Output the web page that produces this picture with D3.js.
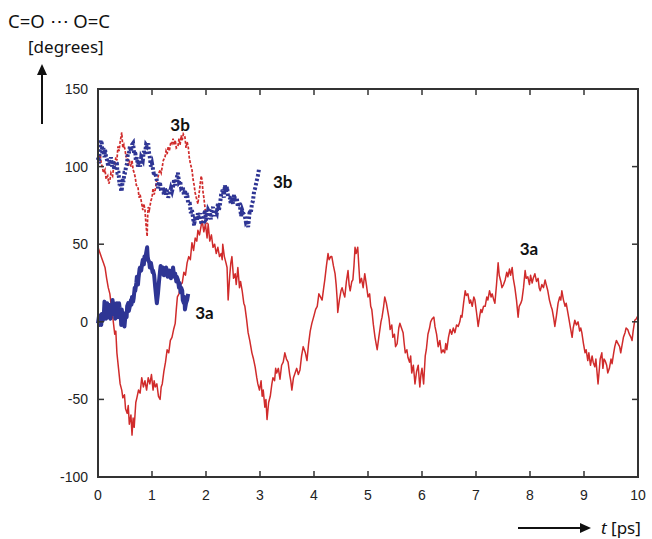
<!DOCTYPE html>
<html>
<head>
<meta charset="utf-8">
<script src="https://cdn.jsdelivr.net/npm/d3@7"></script>
<style>
  body { margin: 0; background: #fff; }
  svg { display: block; }
</style>
</head>
<body>
<div id="chart"></div>
<script>
// axis ticks
const xTicks = [0, 1, 2, 3, 4, 5, 6, 7, 8, 9, 10];
const yTicks = [150, 100, 50, 0, -50, -100];

// 3a, red solid: [t (ps), angle (deg)]
const red3a = [[0.00,48],[0.03,45],[0.07,41],[0.10,38],[0.13,35],[0.16,28],[0.19,22],[0.22,18],[0.25,9],[0.28,1],[0.31,-8],[0.33,-6],[0.35,-20],[0.38,-30],[0.41,-40],[0.44,-44],[0.46,-49],[0.49,-47],[0.51,-56],[0.54,-59],[0.56,-54],[0.58,-66],[0.61,-60],[0.63,-73],[0.65,-62],[0.67,-68],[0.70,-52],[0.72,-49],[0.75,-44],[0.78,-46],[0.81,-36],[0.84,-42],[0.87,-38],[0.90,-44],[0.93,-36],[0.96,-40],[0.99,-34],[1.02,-44],[1.04,-38],[1.06,-42],[1.09,-40],[1.12,-48],[1.15,-50],[1.17,-42],[1.19,-40],[1.22,-32],[1.25,-26],[1.28,-18],[1.31,-20],[1.34,-12],[1.37,-10],[1.40,-5],[1.43,-1],[1.45,8],[1.47,16],[1.50,18],[1.53,24],[1.56,25],[1.59,32],[1.62,30],[1.65,38],[1.68,42],[1.71,40],[1.74,51],[1.77,46],[1.80,54],[1.83,52],[1.85,59],[1.88,56],[1.91,62],[1.93,65],[1.96,58],[1.99,63],[2.02,54],[2.04,63],[2.07,52],[2.10,56],[2.13,48],[2.16,50],[2.19,44],[2.22,48],[2.25,42],[2.28,44],[2.30,40],[2.31,50],[2.34,42],[2.37,38],[2.39,35],[2.41,14],[2.44,30],[2.46,38],[2.48,42],[2.51,28],[2.54,31],[2.56,24],[2.59,35],[2.62,22],[2.64,26],[2.67,20],[2.70,12],[2.72,10],[2.75,2],[2.78,-7],[2.81,-12],[2.85,-20],[2.88,-24],[2.91,-29],[2.94,-36],[2.96,-40],[2.99,-44],[3.02,-38],[3.04,-48],[3.06,-44],[3.09,-55],[3.11,-50],[3.13,-63],[3.16,-52],[3.19,-48],[3.22,-40],[3.24,-36],[3.27,-38],[3.29,-30],[3.31,-33],[3.34,-30],[3.37,-37],[3.40,-28],[3.43,-26],[3.46,-20],[3.49,-24],[3.52,-26],[3.55,-34],[3.57,-38],[3.59,-44],[3.62,-36],[3.65,-33],[3.68,-30],[3.71,-34],[3.74,-31],[3.77,-22],[3.80,-16],[3.84,-20],[3.87,-25],[3.90,-14],[3.93,-6],[3.96,-1],[4.00,4],[4.03,8],[4.06,10],[4.09,18],[4.12,16],[4.15,14],[4.18,22],[4.20,27],[4.23,36],[4.26,44],[4.28,40],[4.31,42],[4.33,42],[4.36,36],[4.39,31],[4.41,24],[4.43,14],[4.44,6],[4.47,14],[4.50,20],[4.52,22],[4.55,18],[4.57,16],[4.60,26],[4.63,33],[4.65,24],[4.67,20],[4.70,26],[4.72,27],[4.74,36],[4.76,48],[4.78,44],[4.81,48],[4.83,36],[4.85,25],[4.88,28],[4.91,22],[4.94,31],[4.97,24],[5.00,16],[5.03,18],[5.05,10],[5.07,8],[5.10,-2],[5.13,-10],[5.15,-14],[5.17,-18],[5.20,-10],[5.22,-5],[5.24,0],[5.26,3],[5.29,10],[5.31,16],[5.34,12],[5.37,6],[5.39,2],[5.41,-5],[5.44,-2],[5.46,-10],[5.49,-8],[5.51,-16],[5.54,-14],[5.57,-4],[5.59,-1],[5.62,-4],[5.65,-7],[5.67,-14],[5.69,-20],[5.72,-18],[5.74,-23],[5.77,-26],[5.79,-22],[5.81,-33],[5.84,-28],[5.87,-40],[5.90,-32],[5.93,-28],[5.95,-38],[5.96,-42],[5.98,-34],[6.00,-30],[6.03,-40],[6.06,-22],[6.08,-18],[6.11,-8],[6.14,-4],[6.16,0],[6.19,2],[6.22,3],[6.24,-3],[6.27,-8],[6.30,-16],[6.33,-12],[6.36,-20],[6.39,-18],[6.42,-20],[6.44,-14],[6.46,-18],[6.49,-10],[6.52,-5],[6.55,-8],[6.58,-4],[6.61,-7],[6.64,-2],[6.67,-3],[6.70,0],[6.72,4],[6.74,3],[6.77,12],[6.80,20],[6.82,17],[6.85,18],[6.88,12],[6.90,14],[6.93,10],[6.96,16],[6.98,14],[7.01,6],[7.04,-3],[7.07,4],[7.09,8],[7.11,6],[7.14,10],[7.17,10],[7.20,16],[7.22,14],[7.25,20],[7.28,16],[7.30,18],[7.33,14],[7.35,12],[7.38,24],[7.41,38],[7.43,30],[7.46,26],[7.48,22],[7.51,24],[7.54,27],[7.57,32],[7.59,29],[7.62,34],[7.64,30],[7.67,35],[7.69,28],[7.72,22],[7.75,14],[7.78,3],[7.80,10],[7.83,12],[7.85,14],[7.88,22],[7.91,33],[7.93,28],[7.96,29],[7.99,24],[8.01,30],[8.04,25],[8.06,28],[8.09,31],[8.12,26],[8.15,28],[8.17,22],[8.19,20],[8.22,24],[8.25,22],[8.28,27],[8.30,24],[8.33,20],[8.36,14],[8.39,10],[8.41,8],[8.44,2],[8.46,-3],[8.49,4],[8.52,12],[8.55,16],[8.57,14],[8.59,20],[8.62,14],[8.65,10],[8.67,12],[8.70,6],[8.72,2],[8.75,-4],[8.78,-10],[8.80,-4],[8.83,1],[8.86,-2],[8.89,0],[8.92,-6],[8.94,-4],[8.96,-7],[8.99,-14],[9.02,-20],[9.04,-18],[9.07,-25],[9.09,-20],[9.12,-28],[9.15,-22],[9.17,-26],[9.20,-29],[9.22,-24],[9.24,-32],[9.26,-40],[9.28,-32],[9.30,-24],[9.33,-20],[9.35,-30],[9.37,-24],[9.39,-25],[9.42,-28],[9.44,-33],[9.47,-30],[9.50,-24],[9.52,-27],[9.55,-20],[9.57,-16],[9.60,-12],[9.63,-14],[9.66,-16],[9.68,-20],[9.70,-16],[9.73,-10],[9.76,-7],[9.78,-4],[9.81,-5],[9.84,-8],[9.87,-10],[9.89,-12],[9.91,-6],[9.94,1],[9.97,2],[10.00,4]];

// 3b, red dashed
const red3b = [[0.00,100],[0.02,106],[0.04,108],[0.06,102],[0.08,100],[0.10,96],[0.13,98],[0.15,92],[0.18,94],[0.20,89],[0.22,91],[0.24,96],[0.27,94],[0.29,100],[0.31,100],[0.33,106],[0.35,104],[0.37,113],[0.39,110],[0.41,116],[0.44,122],[0.46,112],[0.48,114],[0.50,111],[0.52,106],[0.54,108],[0.56,100],[0.58,104],[0.61,100],[0.63,104],[0.65,98],[0.67,96],[0.69,93],[0.71,88],[0.74,87],[0.76,80],[0.78,82],[0.81,76],[0.83,72],[0.85,76],[0.87,72],[0.89,62],[0.91,55],[0.92,68],[0.93,74],[0.95,72],[0.98,78],[1.00,80],[1.02,86],[1.04,82],[1.06,85],[1.08,90],[1.11,93],[1.13,96],[1.15,98],[1.17,96],[1.19,100],[1.21,104],[1.24,106],[1.26,110],[1.28,108],[1.30,113],[1.32,110],[1.35,116],[1.37,115],[1.39,118],[1.41,114],[1.43,117],[1.45,112],[1.48,113],[1.50,118],[1.52,114],[1.54,120],[1.56,117],[1.58,121],[1.61,119],[1.63,112],[1.65,116],[1.67,113],[1.69,106],[1.71,102],[1.74,98],[1.76,92],[1.78,88],[1.80,83],[1.82,80],[1.85,76],[1.87,82],[1.89,88],[1.91,94],[1.93,91],[1.94,85],[1.96,80],[1.98,74],[2.00,68],[2.02,63]];

// 3a, blue solid (thick)
const blue3a = [[0.00,-1],[0.02,4],[0.03,-2],[0.04,3],[0.06,-2],[0.07,5],[0.09,1],[0.11,6],[0.12,13],[0.14,8],[0.15,2],[0.17,12],[0.19,3],[0.20,11],[0.21,8],[0.23,2],[0.24,6],[0.26,10],[0.27,14],[0.28,5],[0.30,12],[0.31,9],[0.32,2],[0.33,7],[0.35,12],[0.36,6],[0.37,3],[0.39,12],[0.40,9],[0.42,6],[0.43,-2],[0.44,8],[0.46,2],[0.47,4],[0.49,-3],[0.50,1],[0.52,6],[0.53,3],[0.54,10],[0.56,12],[0.57,7],[0.59,10],[0.61,14],[0.62,11],[0.63,16],[0.65,13],[0.66,15],[0.68,22],[0.69,20],[0.71,25],[0.72,29],[0.74,24],[0.75,28],[0.77,34],[0.78,35],[0.80,33],[0.82,38],[0.83,40],[0.85,37],[0.86,42],[0.88,40],[0.89,44],[0.91,48],[0.92,42],[0.93,40],[0.95,38],[0.96,35],[0.98,38],[0.99,36],[1.01,32],[1.02,33],[1.04,30],[1.05,26],[1.06,22],[1.08,15],[1.09,12],[1.11,18],[1.12,22],[1.13,26],[1.15,33],[1.16,36],[1.18,31],[1.20,35],[1.22,30],[1.24,32],[1.26,35],[1.28,33],[1.29,29],[1.31,31],[1.33,33],[1.35,28],[1.36,32],[1.38,30],[1.39,35],[1.41,29],[1.43,31],[1.45,26],[1.46,29],[1.48,27],[1.50,22],[1.51,25],[1.53,19],[1.54,22],[1.56,20],[1.57,14],[1.59,12],[1.60,16],[1.61,8],[1.63,12],[1.65,14],[1.67,18]];

// 3b, blue dotted
const blue3b = [[0.00,106],[0.02,102],[0.03,110],[0.05,117],[0.07,115],[0.08,108],[0.10,112],[0.12,106],[0.13,111],[0.15,106],[0.17,104],[0.19,100],[0.20,104],[0.22,102],[0.24,106],[0.26,100],[0.28,104],[0.30,98],[0.32,103],[0.35,102],[0.36,96],[0.38,96],[0.40,88],[0.41,91],[0.43,84],[0.44,85],[0.46,92],[0.47,90],[0.49,96],[0.50,96],[0.52,100],[0.54,102],[0.55,108],[0.57,108],[0.59,113],[0.61,110],[0.63,114],[0.65,115],[0.67,108],[0.69,110],[0.70,104],[0.72,106],[0.74,100],[0.76,104],[0.78,100],[0.80,106],[0.83,104],[0.85,110],[0.87,108],[0.89,114],[0.91,113],[0.93,115],[0.94,110],[0.96,106],[0.98,100],[1.00,102],[1.02,98],[1.04,94],[1.06,96],[1.09,91],[1.11,86],[1.13,90],[1.15,89],[1.17,84],[1.20,87],[1.22,82],[1.24,86],[1.26,82],[1.28,85],[1.30,80],[1.33,83],[1.35,86],[1.37,84],[1.39,87],[1.41,92],[1.43,88],[1.46,93],[1.48,96],[1.50,90],[1.52,91],[1.54,86],[1.57,87],[1.59,82],[1.61,85],[1.63,80],[1.65,83],[1.67,76],[1.70,76],[1.72,70],[1.74,72],[1.76,67],[1.78,62],[1.80,68],[1.83,65],[1.85,70],[1.87,66],[1.89,70],[1.91,64],[1.94,63],[1.96,68],[1.98,72],[2.00,66],[2.02,67],[2.04,72],[2.07,70],[2.09,66],[2.11,72],[2.13,74],[2.15,68],[2.17,72],[2.20,70],[2.22,76],[2.24,72],[2.26,76],[2.28,82],[2.31,85],[2.33,80],[2.35,88],[2.37,84],[2.39,87],[2.41,80],[2.44,80],[2.46,76],[2.48,80],[2.50,76],[2.52,82],[2.54,78],[2.57,80],[2.59,74],[2.61,77],[2.63,74],[2.65,68],[2.67,72],[2.69,70],[2.72,68],[2.74,64],[2.76,65],[2.78,61],[2.80,68],[2.81,72],[2.83,70],[2.85,76],[2.87,78],[2.89,84],[2.91,86],[2.94,91],[2.96,94],[2.98,98],[3.00,98]];

// series labels: [t, value, text]
const seriesLabels = [[1.52, 123, "3b"], [3.42, 86, "3b"], [1.97, 2, "3a"], [7.98, 43, "3a"]];

const W = 652, H = 539;
const plot = { left: 98, right: 638, top: 89, bottom: 477 };

const svg = d3.select("#chart").append("svg")
    .attr("width", W)
    .attr("height", H);

const x = d3.scaleLinear().domain([0, 10]).range([plot.left, plot.right]);
const y = d3.scaleLinear().domain([-100, 150]).range([plot.bottom, plot.top]);

const axisColor = "#333";
const redColor = "#d02b2b";
const blueColor = "#2e3594";

const line = d3.line()
    .x(d => x(d[0]))
    .y(d => y(d[1]));

// data lines
svg.append("path")
    .datum(red3a)
    .attr("d", line)
    .attr("fill", "none")
    .attr("stroke", redColor)
    .attr("stroke-width", 1.5)
    .attr("stroke-linejoin", "round");

svg.append("path")
    .datum(red3b)
    .attr("d", line)
    .attr("fill", "none")
    .attr("stroke", redColor)
    .attr("stroke-width", 1.7)
    .attr("stroke-dasharray", "3,1.6");

svg.append("path")
    .datum(blue3a)
    .attr("d", line)
    .attr("fill", "none")
    .attr("stroke", blueColor)
    .attr("stroke-width", 4)
    .attr("stroke-linejoin", "round");

svg.append("path")
    .datum(blue3b)
    .attr("d", line)
    .attr("fill", "none")
    .attr("stroke", blueColor)
    .attr("stroke-width", 4)
    .attr("stroke-dasharray", "2.5,2");

// frame with inward ticks
const g = svg.append("g");
const tickLen = 6;

g.append("rect")
    .attr("x", plot.left)
    .attr("y", plot.top)
    .attr("width", plot.right - plot.left)
    .attr("height", plot.bottom - plot.top)
    .attr("fill", "none")
    .attr("stroke", axisColor)
    .attr("stroke-width", 2);

const innerX = xTicks.filter(d => d > 0 && d < 10);
const innerY = yTicks.filter(d => d > -100 && d < 150);

g.selectAll(".xt-bottom").data(innerX).enter().append("line")
    .attr("x1", d => x(d)).attr("x2", d => x(d))
    .attr("y1", plot.bottom).attr("y2", plot.bottom - tickLen)
    .attr("stroke", axisColor).attr("stroke-width", 1.5);

g.selectAll(".xt-top").data(innerX).enter().append("line")
    .attr("x1", d => x(d)).attr("x2", d => x(d))
    .attr("y1", plot.top).attr("y2", plot.top + tickLen)
    .attr("stroke", axisColor).attr("stroke-width", 1.5);

g.selectAll(".yt-left").data(innerY).enter().append("line")
    .attr("x1", plot.left).attr("x2", plot.left + tickLen)
    .attr("y1", d => y(d)).attr("y2", d => y(d))
    .attr("stroke", axisColor).attr("stroke-width", 1.5);

g.selectAll(".yt-right").data(innerY).enter().append("line")
    .attr("x1", plot.right).attr("x2", plot.right - tickLen)
    .attr("y1", d => y(d)).attr("y2", d => y(d))
    .attr("stroke", axisColor).attr("stroke-width", 1.5);

// tick labels
const tickFont = "'Liberation Sans', Arial, sans-serif";

g.selectAll(".xl").data(xTicks).enter().append("text")
    .attr("x", d => x(d))
    .attr("y", plot.bottom + 23)
    .attr("text-anchor", "middle")
    .style("font-family", tickFont)
    .style("font-size", "14px")
    .style("fill", "#222")
    .text(d => d);

g.selectAll(".yl").data(yTicks).enter().append("text")
    .attr("x", plot.left - 10)
    .attr("y", d => y(d) + 5)
    .attr("text-anchor", "end")
    .style("font-family", tickFont)
    .style("font-size", "14px")
    .style("fill", "#222")
    .text(d => d);

// series labels
svg.selectAll(".slabel").data(seriesLabels).enter().append("text")
    .attr("x", d => x(d[0]))
    .attr("y", d => y(d[1]))
    .attr("text-anchor", "middle")
    .style("font-family", "Lato, 'Open Sans', sans-serif")
    .style("font-weight", "bold")
    .style("font-size", "17px")
    .style("fill", "#111")
    .text(d => d[2]);

// y axis title with arrow
const titleFont = "'Noto Sans', 'Open Sans', sans-serif";
svg.append("text")
    .attr("x", 8)
    .attr("y", 28)
    .style("font-family", titleFont)
    .style("font-size", "18.5px")
    .style("fill", "#111")
    .text("C=O ⋯ O=C");

svg.append("text")
    .attr("x", 28)
    .attr("y", 53)
    .style("font-family", titleFont)
    .style("font-size", "17px")
    .style("fill", "#111")
    .text("[degrees]");

svg.append("line")
    .attr("x1", 42).attr("x2", 42)
    .attr("y1", 124).attr("y2", 72)
    .attr("stroke", "#111").attr("stroke-width", 2);
svg.append("path")
    .attr("d", "M42,64 L37,75 L47,75 Z")
    .attr("fill", "#111");

// x axis title with arrow
svg.append("line")
    .attr("x1", 518).attr("x2", 582)
    .attr("y1", 528).attr("y2", 528)
    .attr("stroke", "#111").attr("stroke-width", 2);
svg.append("path")
    .attr("d", "M591,528 L580,523 L580,533 Z")
    .attr("fill", "#111");

const xt = svg.append("text")
    .attr("x", 601)
    .attr("y", 534)
    .style("font-family", titleFont)
    .style("font-size", "17px")
    .style("fill", "#111");
xt.append("tspan").style("font-style", "italic").text("t");
xt.append("tspan").text(" [ps]");
</script>
</body>
</html>
